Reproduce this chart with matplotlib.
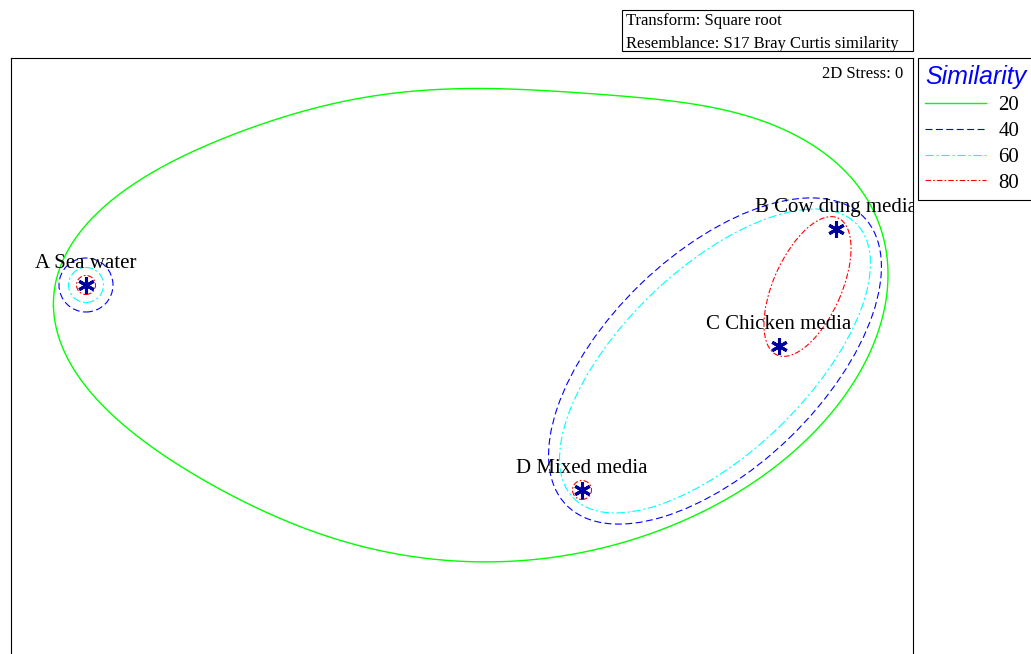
import numpy as np
import matplotlib.pyplot as plt
from matplotlib.patches import Ellipse, Circle, Rectangle
from matplotlib.lines import Line2D

plt.rcParams['font.family'] = ['Liberation Serif', 'DejaVu Serif']
plt.rcParams['lines.scale_dashes'] = False

# nMDS configuration (2D, stress 0)
labels = ['A Sea water', 'B Cow dung media', 'C Chicken media', 'D Mixed media']
mds_x = [0.75, 8.25, 7.68, 5.71]
mds_y = [3.69, 4.25, 3.08, 1.64]

# 20% similarity outline (all four samples)
green_x = [0.36, 0.42, 0.59, 0.86, 1.19, 1.69, 2.19, 2.69, 3.19, 4.09, 4.89,
           5.89, 6.89, 7.56, 8.06, 8.39, 8.62, 8.76, 8.80, 8.77, 8.59, 8.26,
           7.59, 6.59, 5.59, 4.69, 3.52, 2.86, 2.19, 1.52, 1.02, 0.62, 0.39]
green_y = [3.47, 3.74, 4.07, 4.34, 4.64, 4.97, 5.21, 5.37, 5.48, 5.62, 5.67,
           5.59, 5.49, 5.31, 5.07, 4.74, 4.41, 4.07, 3.81, 3.54, 3.04, 2.54,
           1.81, 1.27, 1.01, 0.91, 1.07, 1.31, 1.57, 1.97, 2.44, 2.97, 3.34]

# ellipse groups: centre x, centre y, width, height, angle
blue_ell = (7.04, 2.93, 4.14, 2.14, 44)    # 40%: B, C, D
cyan_ell = (7.04, 2.93, 3.94, 1.84, 44)    # 60%: B, C, D
red_ell = (7.965, 3.675, 1.50, 0.68, 66)   # 80%: B, C

# single-sample circles: sample index, radius
blue_circles = [(0, 0.27)]
cyan_circles = [(0, 0.175)]
red_circles = [(0, 0.095), (3, 0.095)]

levels = ['20', '40', '60', '80']
styles = {
    '20': dict(color='#00ff00', ls='-', lw=1.0),
    '40': dict(color='#0000ff', ls=(0, (5, 2.5)), lw=0.8),
    '60': dict(color='#00ffff', ls=(0, (6, 2, 1.5, 2)), lw=0.8),
    '80': dict(color='#ff0000', ls=(0, (4, 1.5, 1.2, 1.5)), lw=0.8),
}


def smooth_outline(xs, ys, order=6, n=800):
    # least-squares Fourier fit of a closed outline, parameterised by arc length
    p = np.column_stack([xs, ys])
    seg = np.hypot(*(np.roll(p, -1, axis=0) - p).T)
    t = 2 * np.pi * np.concatenate([[0], np.cumsum(seg)[:-1]]) / seg.sum()

    def basis(tt):
        cols = [np.ones_like(tt)]
        for k in range(1, order + 1):
            cols += [np.cos(k * tt), np.sin(k * tt)]
        return np.column_stack(cols)

    coef, *_ = np.linalg.lstsq(basis(t), p, rcond=None)
    tf = np.linspace(0, 2 * np.pi, n)
    out = basis(tf) @ coef
    return out[:, 0], out[:, 1]


fig = plt.figure(figsize=(10.31, 6.54), dpi=100)
ax = fig.add_axes([11 / 1031, 0, 902 / 1031, 596 / 654])
ax.set_xlim(0, 9.02)
ax.set_ylim(0, 5.96)
ax.set_xticks([])
ax.set_yticks([])
ax.spines['bottom'].set_visible(False)
for s in ['left', 'top', 'right']:
    ax.spines[s].set_linewidth(0.8)

gx, gy = smooth_outline(green_x, green_y)
ax.plot(gx, gy, **styles['20'])

for ell, lev in [(blue_ell, '40'), (cyan_ell, '60'), (red_ell, '80')]:
    cx, cy, w, h, ang = ell
    ax.add_patch(Ellipse((cx, cy), w, h, angle=ang, fill=False, **styles[lev]))

for circles, lev in [(blue_circles, '40'), (cyan_circles, '60'), (red_circles, '80')]:
    for idx, r in circles:
        ax.add_patch(Circle((mds_x[idx], mds_y[idx]), r, fill=False, **styles[lev]))

ax.plot(mds_x, mds_y, ls='none', marker=(6, 2, 0), ms=12, mew=2.2,
        color='#0000a0', zorder=5)

for lab, x, y in zip(labels, mds_x, mds_y):
    ax.annotate(lab, (x, y), xytext=(0, 12), textcoords='offset points',
                ha='center', va='baseline', fontsize=15, clip_on=True)

ax.text(0.989, 0.966, '2D Stress: 0', transform=ax.transAxes,
        ha='right', va='baseline', fontsize=12)

# transform / resemblance box above the plot
fig.add_artist(Rectangle((622 / 1031, 1 - 51 / 654), 291 / 1031, 41 / 654,
                         transform=fig.transFigure, fill=False, lw=0.8,
                         edgecolor='black'))
fig.text(626 / 1031, 1 - 13 / 654,
         'Transform: Square root\nResemblance: S17 Bray Curtis similarity',
         ha='left', va='top', fontsize=12, linespacing=1.55)

handles = [Line2D([], [], **styles[lev]) for lev in levels]
leg = fig.legend(handles, levels, loc='upper left',
                 bbox_to_anchor=(918 / 1031, 1 - 58 / 654),
                 bbox_transform=fig.transFigure, borderaxespad=0,
                 fontsize=15, title='Similarity', alignment='left',
                 title_fontproperties={'family': 'Liberation Sans',
                                       'style': 'italic', 'size': 18},
                 handlelength=2.9, handletextpad=0.6, labelspacing=0.3,
                 borderpad=0.35, fancybox=False, framealpha=1,
                 edgecolor='black')
leg.get_title().set_color('#0000ff')
leg.get_frame().set_linewidth(0.8)

fig.savefig('out.png', dpi=100)
